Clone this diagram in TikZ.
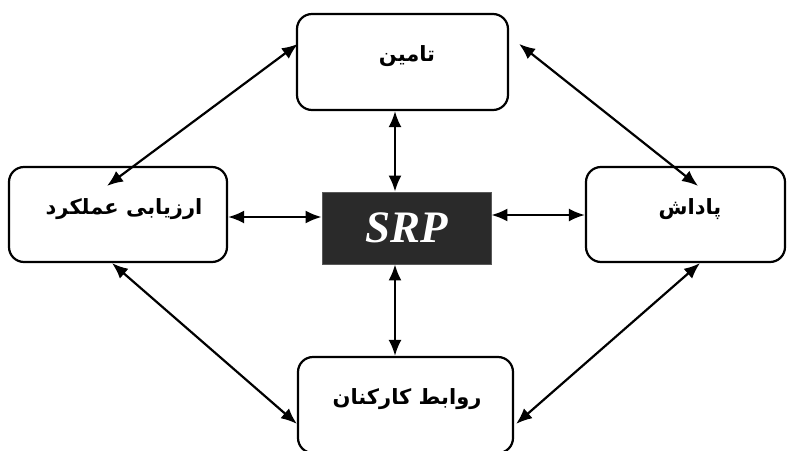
\documentclass[tikz,border=0pt]{standalone}
\usepackage{fontspec}
\setmainfont{Liberation Serif}
\newfontfamily\arabicfont[Script=Arabic]{DejaVu Sans}
\TeXXeTstate=1
\usetikzlibrary{arrows.meta,calc}
\definecolor{srpfill}{RGB}{42,42,42}
\begin{document}
\begin{tikzpicture}[x=1pt,y=-1pt,
  box/.style={draw=black, line width=2.2pt, rounded corners=15pt, inner sep=0pt},
  lbl/.style={inner sep=0pt, font=\arabicfont\bfseries\fontsize{21}{25}\selectfont},
  link/.style={line width=2.2pt, {Latex[length=16pt,width=13pt]}-{Latex[length=16pt,width=13pt]}}]
\useasboundingbox (0,0) rectangle (795,450);
\clip (0,0) rectangle (795,450);
% boxes
\node[box, minimum width=211pt, minimum height=96pt] (T) at (402.5,62) {};
\node[box, minimum width=218pt, minimum height=95pt] (L) at (118,214.5) {};
\node[box, minimum width=199pt, minimum height=95pt] (R) at (685.5,214.5) {};
\node[box, minimum width=215pt, minimum height=96pt] (B) at (405.5,405) {};
\node[draw=gray!70!black, line width=0.8pt, fill=srpfill, minimum width=169pt, minimum height=72pt, inner sep=0pt,
      text=white, font=\bfseries\itshape\fontsize{45}{48}\selectfont] (S) at (406.5,228) {SRP};
% labels
\node[lbl] (tT) at (407,56) {\beginR تامین\endR};
\node[lbl] (tL) at (124,209) {\beginR ارزیابی عملکرد\endR};
\node[lbl] (tR) at (690,209) {\beginR پاداش\endR};
\node[lbl] (tB) at (407,399) {\beginR روابط کارکنان\endR};
% connectors
\draw[link] ($(T.south)+(-7.5,0)$) -- ($(S.north)+(-11.5,0)$);
\draw[link] ($(S.south)+(-11.5,0)$) -- ($(B.north)+(-10.5,0)$);
\draw[link] ($(L.east)+(0,2.5)$) -- ($(S.west)+(0,-11)$);
\draw[link] ($(S.east)+(0,-13)$) -- ($(R.west)+(0,0.5)$);
\coordinate (lt) at ($(L.north)+(-11,20)$);
\coordinate (tl) at ($(T.north west)+(2,31)$);
\coordinate (tr) at ($(T.north east)+(10,31)$);
\coordinate (rt) at ($(R.north)+(12.5,20)$);
\coordinate (lb) at ($(L.south)+(-6,0)$);
\coordinate (bl) at ($(B.north west)+(0,68)$);
\coordinate (rb) at ($(R.south)+(14.5,0)$);
\coordinate (br) at ($(B.north east)+(2,68)$);
\draw[link] (lt) -- (tl);
\draw[link] (tr) -- (rt);
\draw[link] (lb) -- (bl);
\draw[link] (rb) -- (br);
\end{tikzpicture}
\end{document}
